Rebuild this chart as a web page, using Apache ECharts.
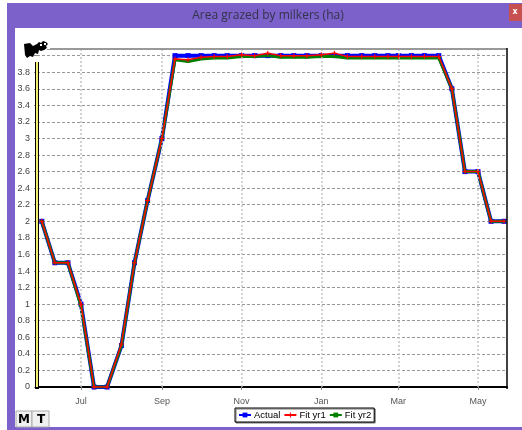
<!DOCTYPE html>
<html>
<head>
<meta charset="utf-8">
<script src="https://cdn.jsdelivr.net/npm/echarts@6/dist/echarts.min.js"></script>
<style>html,body{margin:0;padding:0;background:#fff;}#c{width:522px;height:430px;}</style>
</head>
<body>
<div id="c"></div>
<script>
// ---- data ----
const dates = ['2014-06-01','2014-06-11','2014-06-21','2014-07-01','2014-07-11','2014-07-21',
  '2014-08-01','2014-08-11','2014-08-21','2014-09-01','2014-09-11','2014-09-21',
  '2014-10-01','2014-10-11','2014-10-21','2014-11-01','2014-11-11','2014-11-21',
  '2014-12-01','2014-12-11','2014-12-21','2015-01-01','2015-01-11','2015-01-21',
  '2015-02-01','2015-02-11','2015-02-21','2015-03-01','2015-03-11','2015-03-21',
  '2015-04-01','2015-04-11','2015-04-21','2015-05-01','2015-05-11','2015-05-21'];
const actual = [2.0,1.5,1.5,1.0,0,0,0.5,1.5,2.25,3.0,
  4,4,4,4,4,4,4,4,4,4,4,4,4,4,4,4,4,4,4,4,4,
  3.6,2.6,2.6,2.0,2.0];
const fitYr1 = [2.0,1.5,1.5,1.0,0,0,0.52,1.5,2.25,3.0,
  3.96,3.95,3.98,3.99,3.99,4.01,4.0,4.03,4.0,4.0,4.0,4.01,4.03,3.99,3.99,3.99,3.99,3.99,3.99,3.99,3.99,
  3.6,2.6,2.6,2.0,2.0];
const fitYr2 = [2.0,1.5,1.5,0.98,0,0,0.5,1.5,2.25,3.0,
  3.95,3.93,3.96,3.97,3.97,3.99,3.99,4.0,3.98,3.98,3.98,3.99,3.99,3.97,3.97,3.97,3.97,3.97,3.97,3.97,3.97,
  3.6,2.6,2.6,2.0,2.0];
const monthTicks = ['2014-07-01','2014-09-01','2014-11-01','2015-01-01','2015-03-01','2015-05-01'];
const monthNames = ['Jan','Feb','Mar','Apr','May','Jun','Jul','Aug','Sep','Oct','Nov','Dec'];
const seriesNames = ['Actual','Fit yr1','Fit yr2'];
const titleText = 'Area grazed by milkers (ha)';

const ts = s => { const p = s.split('-').map(Number); return Date.UTC(p[0], p[1]-1, p[2]); };
const pairs = arr => dates.map((d,i) => [ts(d), arr[i]]);
const tickVals = monthTicks.map(ts);

const chart = echarts.init(document.getElementById('c'), null, {renderer:'canvas'});
const FONT = 'Liberation Sans';
const purple = '#7b61c9';

const plusPath = 'path://M4,0 L6,0 L6,4 L10,4 L10,6 L6,6 L6,10 L4,10 L4,6 L0,6 L0,4 L4,4 Z';

chart.setOption({
  animation: false,
  backgroundColor: '#fff',
  grid: { left: 37, right: 15, top: 49, bottom: 43, containLabel: false },
  xAxis: {
    type: 'value',
    min: Date.UTC(2014,4,28,8),
    max: Date.UTC(2015,4,23,5),
    axisLine: { show: true, onZero: false, lineStyle: { color: '#000', width: 2 } },
    axisTick: { show: true, customValues: tickVals, length: 3, lineStyle: { color: '#888' } },
    axisLabel: { customValues: tickVals, margin: 10, fontSize: 9, fontFamily: FONT, color: '#555',
      formatter: v => monthNames[new Date(v).getUTCMonth()] },
    splitLine: { show: false }
  },
  yAxis: {
    type: 'value', min: 0, max: 4.08, interval: 0.2,
    axisLine: { show: false },
    axisTick: { show: true, length: 3, lineStyle: { color: '#888' } },
    axisLabel: { margin: 7, fontSize: 9, fontFamily: FONT, color: '#444',
      formatter: v => v > 3.85 ? '' : String(+v.toFixed(1)) },
    splitLine: { show: true, lineStyle: { color: '#999', type: [3,2], width: 1 } }
  },
  legend: {
    data: seriesNames,
    left: 235, top: 408, orient: 'horizontal',
    padding: [2,3,2,3], itemGap: 3, itemWidth: 12, itemHeight: 6,
    borderColor: '#000', borderWidth: 1, backgroundColor: '#fff',
    shadowColor: '#777', shadowOffsetX: 1, shadowOffsetY: 1, shadowBlur: 0,
    textStyle: { fontSize: 9.5, fontFamily: FONT, color: '#000', padding: [0,0,0,-2] }
  },
  series: [
    { type: 'line', name: 'grid-v', data: [], z: 1, silent: true,
      markLine: { silent: true, symbol: ['none','none'], label: { show: false },
        lineStyle: { color: '#c4c4c4', type: [2,2], width: 1.5 },
        data: tickVals.map(v => ({ xAxis: v })) } },
    { type: 'line', name: seriesNames[0], data: pairs(actual), z: 3,
      lineStyle: { color: '#0000ff', width: 4 }, itemStyle: { color: '#0000ff' },
      symbol: 'rect', symbolSize: 5, showSymbol: true },
    { type: 'line', name: seriesNames[2], data: pairs(fitYr2), z: 4,
      lineStyle: { color: '#008000', width: 3 }, itemStyle: { color: '#008000' },
      symbol: 'rect', symbolSize: [4,2], showSymbol: true },
    { type: 'line', name: seriesNames[1], data: pairs(fitYr1), z: 5,
      lineStyle: { color: '#ff0000', width: 1.5 }, itemStyle: { color: '#ff0000' },
      symbol: plusPath, symbolSize: 5, showSymbol: true }
  ],
  graphic: [
    // purple window frame
    { type: 'rect', shape: { x: 7, y: 3, width: 515, height: 25 }, style: { fill: purple }, z: 0, silent: true },
    { type: 'rect', shape: { x: 7, y: 3, width: 8, height: 427 }, style: { fill: purple }, z: 0, silent: true },
    { type: 'rect', shape: { x: 7, y: 427, width: 515, height: 3 }, style: { fill: purple }, z: 0, silent: true },
    { type: 'text', x: 268, y: 16, style: { text: titleText, fill: '#33334a', font: '12px "Open Sans"', align: 'center', verticalAlign: 'middle' }, z: 1, silent: true },
    // close button
    { type: 'rect', shape: { x: 509, y: 4, width: 13, height: 17 }, style: { fill: '#c75050' }, z: 1, silent: true },
    { type: 'text', x: 515, y: 12, style: { text: 'x', fill: '#fff', font: 'bold 8px "DejaVu Sans"', align: 'center', verticalAlign: 'middle' }, z: 2, silent: true },
    // top grey line and right border
    { type: 'line', shape: { x1: 50, y1: 49, x2: 507, y2: 49 }, style: { stroke: '#999', lineWidth: 2 }, z: 10, silent: true },
    { type: 'line', shape: { x1: 507, y1: 48, x2: 507, y2: 389 }, style: { stroke: '#000', lineWidth: 1.5 }, z: 10, silent: true },
    // left axis: black/yellow/black
    { type: 'rect', shape: { x: 35, y: 62, width: 4, height: 327 }, style: { fill: '#000' }, z: 10, silent: true },
    { type: 'rect', shape: { x: 36, y: 62, width: 2, height: 325 }, style: { fill: '#f4ee70' }, z: 11, silent: true },
    // cow icon
    { type: 'polygon', shape: { points: [[24,44],[30,43],[33,46],[37,44],[39,42],[41,43],[43,41],[46,42],[48,44],[46,46],[47,48],[44,50],[41,51],[39,50],[38,54],[35,53],[33,57],[30,56],[27,58],[25,55]] },
      style: { fill: '#000' }, z: 10, silent: true },
    { type: 'rect', shape: { x: 40, y: 44, width: 2, height: 2 }, style: { fill: '#fff' }, z: 11, silent: true },
    { type: 'rect', shape: { x: 44, y: 43, width: 2, height: 2 }, style: { fill: '#fff' }, z: 11, silent: true },
    // M / T buttons
    { type: 'rect', shape: { x: 16, y: 411, width: 16, height: 16 }, style: { fill: '#f0f0f0', stroke: '#aaa', lineWidth: 1 }, z: 10, silent: true },
    { type: 'rect', shape: { x: 32, y: 411, width: 17, height: 16 }, style: { fill: '#f0f0f0', stroke: '#aaa', lineWidth: 1 }, z: 10, silent: true },
    { type: 'text', x: 24, y: 420, style: { text: 'M', fill: '#000', font: 'bold 12px "DejaVu Sans"', align: 'center', verticalAlign: 'middle' }, z: 11, silent: true },
    { type: 'text', x: 41, y: 420, style: { text: 'T', fill: '#000', font: 'bold 12px "DejaVu Sans"', align: 'center', verticalAlign: 'middle' }, z: 11, silent: true }
  ]
});
</script>
</body>
</html>
